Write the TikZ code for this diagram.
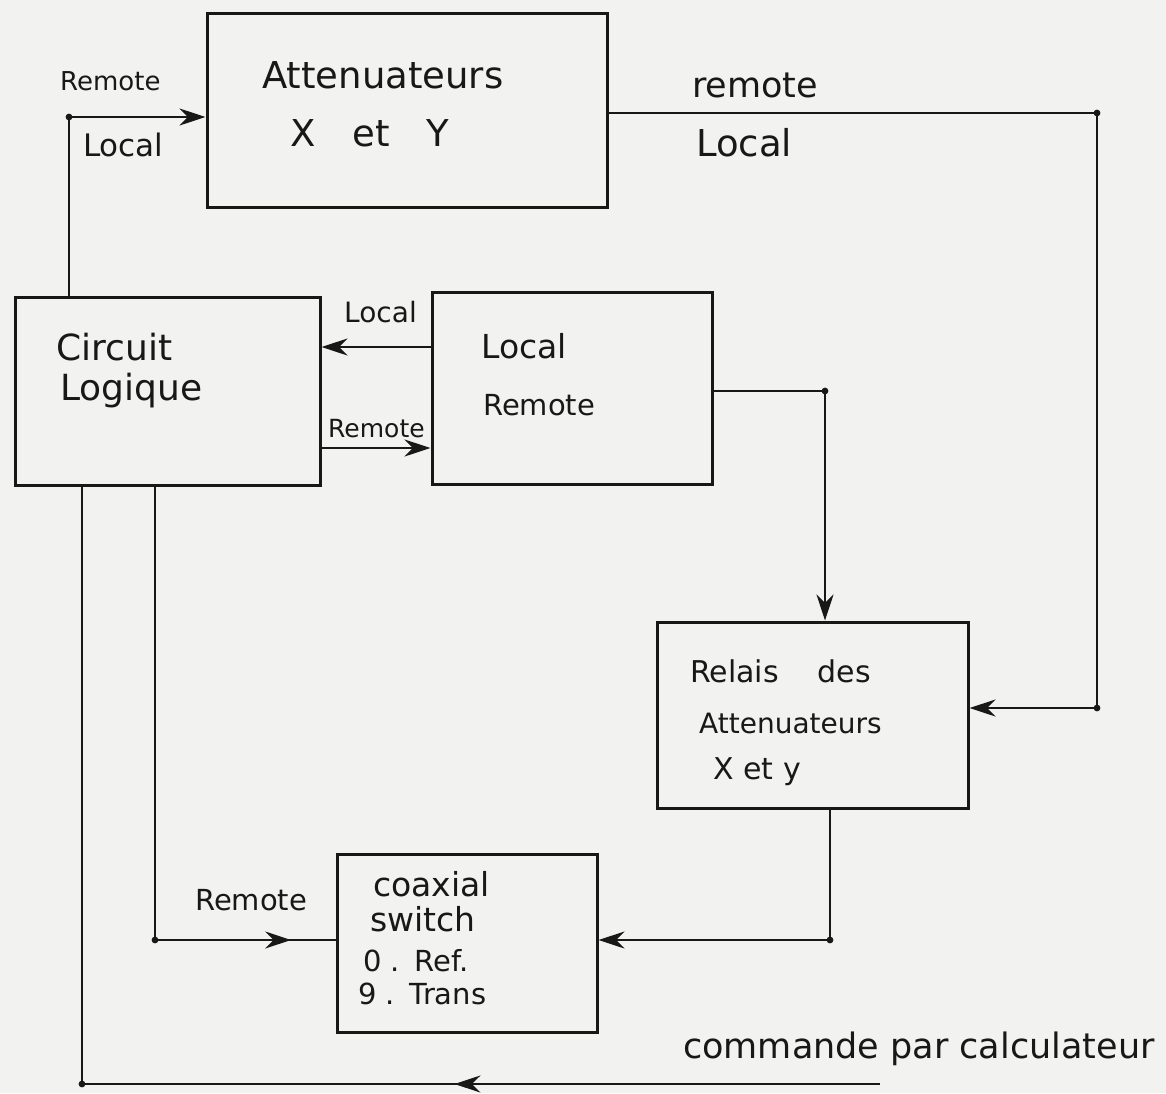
\documentclass[tikz,border=0pt]{standalone}
\usepackage{fontspec}
\setmainfont{DejaVu Sans}
\usetikzlibrary{arrows.meta,decorations.markings}
\definecolor{ink}{RGB}{24,24,24}
\definecolor{paper}{RGB}{242,242,240}
\tikzset{
  box/.style={draw=ink, line width=3pt, inner sep=0pt},
  conn/.style={draw=ink, line width=2.8pt},
  arr/.style={-{Stealth[length=26pt,width=17pt]}},
  midarrow/.style={postaction={decorate}, decoration={markings, mark=at position #1 with {\arrow{Stealth[length=26pt,width=17pt]}}}},
  lbl/.style={anchor=base west, inner sep=0pt, text=ink},
  dotmark/.style={fill=ink},
  fs/.style={font=\fontsize{#1}{#1}\selectfont},
}
\begin{document}
\begin{tikzpicture}[x=1pt,y=-1pt]
\fill[paper] (0,0) rectangle (1166,1093);
\useasboundingbox (0,0) rectangle (1166,1093);

% boxes
\node[box, minimum width=400pt, minimum height=194pt] (att) at (407,110) {};
\node[box, minimum width=305pt, minimum height=188pt] (circ) at (167.5,391) {};
\node[box, minimum width=280pt, minimum height=192pt] (lr) at (572,388) {};
\node[box, minimum width=311pt, minimum height=186pt] (rel) at (812.5,715) {};
\node[box, minimum width=260pt, minimum height=178pt] (cox) at (467,943) {};

% box texts
\node[lbl, fs=37] (tatt1) at (262,88) {Attenuateurs};
\node[lbl, fs=37] (tatt2) at (290,146) {X\quad et\quad Y};
\node[lbl, fs=36] (tcirc1) at (56,360) {Circuit};
\node[lbl, fs=36] (tcirc2) at (60,400) {Logique};
\node[lbl, fs=33] (tlr1) at (481,358) {Local};
\node[lbl, fs=29] (tlr2) at (483,415) {Remote};
\node[lbl, fs=30] (trel1) at (690,682) {Relais\hspace{39pt}des};
\node[lbl, fs=28] (trel2) at (699,733) {Attenuateurs};
\node[lbl, fs=30] (trel3) at (713,779) {X et y};
\node[lbl, fs=33] (tcox1) at (373,896) {coaxial};
\node[lbl, fs=33] (tcox2) at (370,931) {switch};
\node[lbl, fs=29] (tcox3) at (363,971) {0 .\enspace Ref.};
\node[lbl, fs=29] (tcox4) at (358,1004) {9 .\enspace Trans};

% connector corners
\coordinate (c1) at (69,117);
\coordinate (c2) at (1097,113);
\coordinate (c3) at (1097,708);
\coordinate (c4) at (0,347);
\coordinate (c4b) at (0,448);
\coordinate (c5) at (825,391);
\coordinate (c6) at (830,940);
\coordinate (c7) at (155,940);
\coordinate (c8) at (880,1084);
\coordinate (c9) at (82,1084);

% connectors
\draw[conn, arr] (circ.north -| c1) -- (c1) -- (c1 -| att.west);
\draw[conn, arr] (att.east |- c2) -- (c2) -- (c3) -- (c3 -| rel.east);
\draw[conn, arr] (lr.west |- c4) -- (circ.east |- c4);
\draw[conn, arr] (circ.east |- c4b) -- (lr.west |- c4b);
\draw[conn, arr] (lr.east |- c5) -- (c5) -- (c5 |- rel.north);
\draw[conn, arr] (rel.south -| c6) -- (c6) -- (c6 -| cox.east);
\draw[conn, midarrow=0.93] (circ.south -| c7) -- (c7) -- (c7 -| cox.west);
\draw[conn, midarrow=0.305] (c8) -- (c9) -- (c9 |- circ.south);

\foreach \p in {c1,c2,c3,c5,c6,c7,c9} \fill[dotmark] (\p) circle (3.4pt);

% connector labels
\node[lbl, fs=26] (l1) at (60,90) {Remote};
\node[lbl, fs=31] (l2) at (83,156) {Local};
\node[lbl, fs=35] (l3) at (692,97) {remote};
\node[lbl, fs=37] (l4) at (696,156) {Local};
\node[lbl, fs=28] (l5) at (344,322) {Local};
\node[lbl, fs=25] (l6) at (328,437) {Remote};
\node[lbl, fs=29] (l7) at (195,910) {Remote};
\node[lbl, fs=35] (l8) at (683,1058) {commande par calculateur};
\end{tikzpicture}
\end{document}
